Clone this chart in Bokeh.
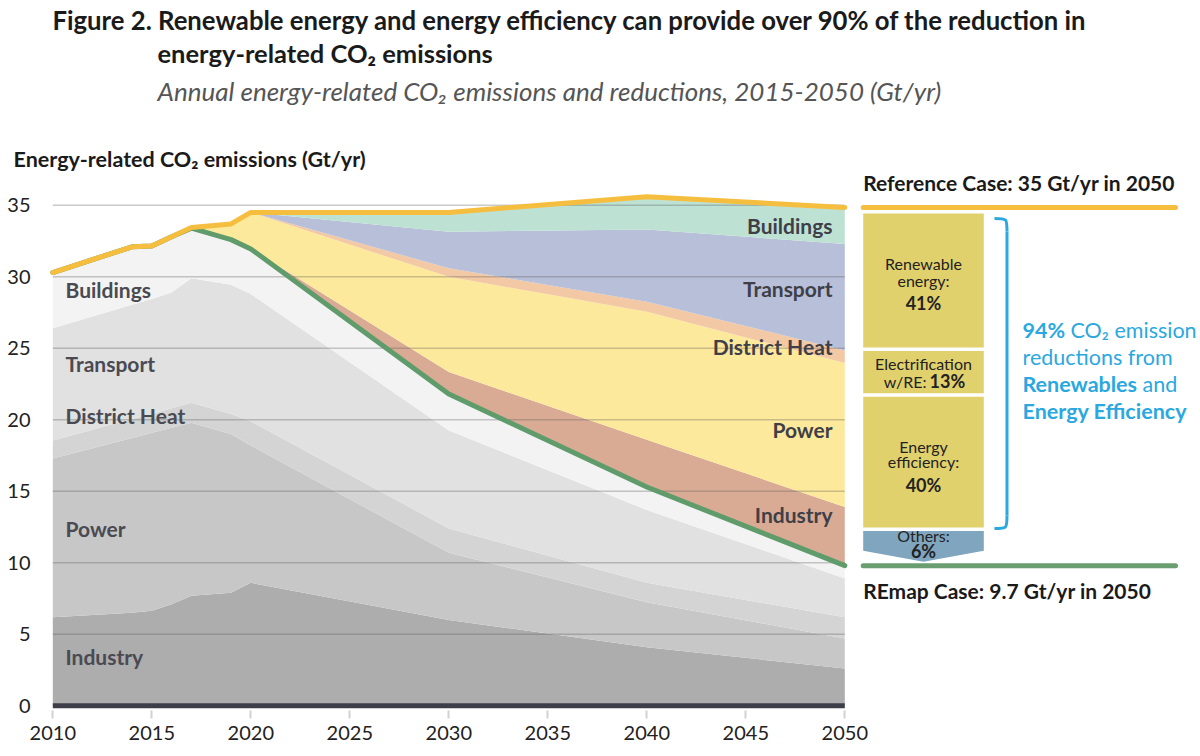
import numpy as np
from bokeh.plotting import figure
from bokeh.models import Label, FixedTicker, Range1d, ColumnDataSource
from bokeh.embed import file_html
from bokeh.resources import INLINE

# ---------------- data ----------------
years = [2010, 2014, 2015, 2016, 2017, 2019, 2020, 2030, 2040, 2050]

# REmap Case emissions by sector (Gt/yr), stacked from the bottom
remap_industry  = [6.2, 6.5, 6.65, 7.1, 7.7, 7.9, 8.6, 6.0, 4.1, 2.6]
remap_power     = [11.1, 12.23, 12.44, 12.34, 12.1, 11.1, 9.6, 4.7, 3.15, 2.1]
remap_district  = [1.25, 1.33, 1.31, 1.36, 1.4, 1.4, 1.7, 1.7, 1.35, 1.5]
remap_transport = [7.85, 7.99, 8.05, 8.1, 8.7, 9.05, 8.9, 6.85, 5.1, 2.7]
remap_buildings = [3.9, 4.05, 3.7, 3.9, 3.5, 3.15, 3.15, 2.55, 1.6, 0.9]

# Reductions vs Reference Case (Gt/yr), stacked on top of the REmap total
red_industry  = [0, 0, 0, 0, 0, 0, 0, 1.55, 3.3, 4.1]
red_power     = [0, 0, 0, 0, 0.05, 1.1, 2.55, 6.65, 8.95, 10.07]
red_district  = [0, 0, 0, 0, 0, 0, 0, 0.6, 0.7, 0.88]
red_transport = [0, 0, 0, 0, 0, 0, 0, 2.55, 5.05, 7.45]
red_buildings = [0, 0, 0, 0, 0, 0, 0, 1.35, 2.3, 2.55]

sector_names = ["Buildings", "Transport", "District Heat", "Power", "Industry"]
x_ticks = [2010, 2015, 2020, 2025, 2030, 2035, 2040, 2045, 2050]
y_ticks = [0, 5, 10, 15, 20, 25, 30, 35]

share_labels = ["Renewable energy", "Electrification w/RE", "Energy efficiency", "Others"]
share_values = [41, 13, 40, 6]

# ---------------- derived ----------------
remap_total = (np.array(remap_industry) + np.array(remap_power) + np.array(remap_district)
               + np.array(remap_transport) + np.array(remap_buildings))
ref_total = remap_total + (np.array(red_industry) + np.array(red_power) + np.array(red_district)
                           + np.array(red_transport) + np.array(red_buildings))

src = ColumnDataSource(dict(
    years=years,
    g_ind=remap_industry, g_pow=remap_power, g_dh=remap_district, g_tr=remap_transport, g_bu=remap_buildings,
    r_ind=red_industry, r_pow=red_power, r_dh=red_district, r_tr=red_transport, r_bu=red_buildings,
    remap=list(remap_total), ref=list(ref_total),
))

FONT = "Lato"
W, H = 1200, 752

# ---------------- geometry (page pixels -> data) ----------------
PXY = 19.8     # px per year
PXV = 14.3     # px per Gt
FRAME_B = 718
X0 = 2010 - 52.3 / PXY
X1 = X0 + W / PXY
Y0 = -(FRAME_B - 705.3) / PXV
Y1 = Y0 + FRAME_B / PXV

def X(px):
    return 2010 + (px - 52.3) / PXY

def Y(px):
    return (705.3 - px) / PXV

def dy(px):
    return px / PXV

p = figure(width=W, height=H, x_range=Range1d(X0, X1), y_range=Range1d(Y0, Y1),
           output_backend="svg", toolbar_location=None,
           min_border_left=0, min_border_right=0, min_border_top=0,
           min_border_bottom=H - FRAME_B)
p.outline_line_color = None
p.grid.visible = False
p.background_fill_color = "white"
p.border_fill_color = "white"

p.xaxis.ticker = FixedTicker(ticks=x_ticks)
p.xaxis.axis_line_color = None
p.xaxis.major_tick_in = 8
p.xaxis.major_tick_out = 0
p.xaxis.major_tick_line_color = "#d2d2d2"
p.xaxis.major_tick_line_width = 2
p.xaxis.minor_tick_line_color = None
p.xaxis.major_label_standoff = 7
p.xaxis.major_label_text_font = FONT
p.xaxis.major_label_text_font_size = "20px"
p.xaxis.major_label_text_color = "#222222"

# y axis drawn at a fixed spot just left of 2010, labels to its left
p.yaxis.fixed_location = X(40)
p.yaxis.ticker = FixedTicker(ticks=y_ticks)
p.yaxis.axis_line_color = None
p.yaxis.major_tick_line_color = None
p.yaxis.minor_tick_line_color = None
p.yaxis.major_label_standoff = 4
p.yaxis.major_label_text_font = FONT
p.yaxis.major_label_text_font_size = "20px"
p.yaxis.major_label_text_color = "#222222"

gray_cols = ["#adadad", "#c7c7c7", "#d4d4d4", "#e1e1e1", "#f3f3f4"]
red_cols = ["#d9ab95", "#fde99b", "#f2c9a4", "#b8bfd8", "#bde2d4"]
p.varea_stack(stackers=["g_ind", "g_pow", "g_dh", "g_tr", "g_bu",
                        "r_ind", "r_pow", "r_dh", "r_tr", "r_bu"],
              x="years", color=gray_cols + red_cols, source=src)

# grid lines over the areas, spanning 2010-2050
p.segment(x0=[x_ticks[0]] * 7, x1=[x_ticks[-1]] * 7, y0=y_ticks[1:], y1=y_ticks[1:],
          line_color="#5a5a5a", line_alpha=0.32, line_width=1.5)
# baseline
p.segment(x0=[x_ticks[0]], x1=[x_ticks[-1]], y0=[0], y1=[0], line_color="#3e3e4a", line_width=5)

p.line("years", "remap", source=src, line_color="#5f9b6b", line_width=5, line_cap="round", line_join="round")
p.line("years", "ref", source=src, line_color="#f6be3f", line_width=5, line_cap="round", line_join="round")

def lab(x, ypx, text, size=20, style="normal", color="#222222", align="left"):
    # ypx: page-pixel baseline of the text
    p.add_layout(Label(x=x, y=Y(ypx - 0.42 * size), text=text, text_font=FONT, text_font_size="%spx" % size,
                       text_font_style=style, text_color=color, text_align=align,
                       text_baseline="alphabetic", level="overlay"))

def mlab(x, y, text, size=16, style="normal", color="#222222", align="center"):
    p.add_layout(Label(x=x, y=y, text=text, text_font=FONT, text_font_size="%spx" % size,
                       text_font_style=style, text_color=color, text_align=align,
                       text_baseline="middle", level="overlay"))

# ---------------- titles ----------------
lab(X(52), 30, "Figure 2. Renewable energy and energy efficiency can provide over 90% of the reduction in",
    25.7, "bold", "#1a1a1a")
lab(X(157), 63, "energy-related CO\u2082 emissions", 25.5, "bold", "#1a1a1a")
lab(X(157), 101, "Annual energy-related CO\u2082 emissions and reductions, 2015-2050 (Gt/yr)", 26, "italic", "#555555")
lab(X(13), 168, "Energy-related CO\u2082 emissions (Gt/yr)", 21.5, "bold", "#1a1a1a")

# sector labels, left (REmap)
left_base = [298, 372, 424, 537, 665]
for name, b in zip(sector_names, left_base):
    lab(X(65), b, name, 21, "bold", "#4a4a52")
# sector labels, right (reductions)
right_base = [234, 297, 355, 438, 523]
for name, b in zip(sector_names, right_base):
    lab(X(832), b, name, 21, "bold", "#3f3f48", align="right")

# ---------------- right panel ----------------
ref_end = float(ref_total[-1])
remap_end = float(remap_total[-1])
px0, px1 = X(862.7), X(983.3)
pl1 = X(1175)
p.segment(x0=[px0], x1=[pl1], y0=[ref_end], y1=[ref_end], line_color="#f6be3f", line_width=5, line_cap="round")
p.segment(x0=[px0], x1=[pl1], y0=[remap_end], y1=[remap_end], line_color="#6a9e70", line_width=5, line_cap="round")
lab(px0, 191, "Reference Case: 35 Gt/yr in 2050", 21, "bold", "#1a1a1a")
lab(px0, 599, "REmap Case: 9.7 Gt/yr in 2050", 21, "bold", "#1a1a1a")

top_pad, gap, arrow, bot_pad = 6 / PXV, 3.5 / PXV, 11 / PXV, 4 / PXV
avail = (ref_end - remap_end) - top_pad - 3 * gap - arrow - bot_pad
tops, bots = [], []
cur = ref_end - top_pad
for s in share_values:
    h = avail * s / 100.0
    tops.append(cur)
    bots.append(cur - h)
    cur = cur - h - gap
p.quad(left=[px0] * 3, right=[px1] * 3, top=tops[:3], bottom=bots[:3], fill_color="#e1d16c", line_color=None)
xm = (px0 + px1) / 2
p.patch([px0, px1, px1, xm, px0], [tops[3], tops[3], bots[3], bots[3] - arrow, bots[3]],
        fill_color="#7fa5bf", line_color=None)

c0 = (tops[0] + bots[0]) / 2
mlab(xm, c0 + dy(17), "Renewable")
mlab(xm, c0, "energy:")
mlab(xm, c0 - dy(23), "%d%%" % share_values[0], 18, "bold")
c1 = (tops[1] + bots[1]) / 2
mlab(xm, c1 + dy(9), "Electrification")
mlab(X(926), c1 - dy(9), "w/RE:", align="right")
mlab(X(929), c1 - dy(9), "%d%%" % share_values[1], 18, "bold", align="left")
c2 = (tops[2] + bots[2]) / 2
mlab(xm, c2 + dy(16), "Energy")
mlab(xm, c2 + dy(1), "efficiency:")
mlab(xm, c2 - dy(23), "%d%%" % share_values[2], 18, "bold")
c3 = (tops[3] + bots[3]) / 2
mlab(xm, c3 + dy(5), "Others:")
mlab(xm, c3 - dy(10), "%d%%" % share_values[3], 18, "bold")

# bracket around the 94 %
BLUE = "#2aa8df"
bt, bb = tops[0] - dy(5), bots[2] - dy(1)
bx0, bx1 = X(994), X(1006.5)
p.bezier(x0=[bx0, bx1], y0=[bt, bb + dy(13)], x1=[bx1, bx0], y1=[bt - dy(13), bb],
         cx0=[bx1, bx1], cy0=[bt, bb], cx1=[bx1, bx1], cy1=[bt, bb],
         line_color=BLUE, line_width=3)
p.segment(x0=[bx1], x1=[bx1], y0=[bt - dy(13)], y1=[bb + dy(13)], line_color=BLUE, line_width=3)

pct94 = share_values[0] + share_values[1] + share_values[2]
lab(X(1022), 339, "%d%%" % pct94, 21.5, "bold", BLUE)
lab(X(1070), 339, "CO\u2082 emission", 21.5, "normal", BLUE)
lab(X(1022), 366, "reductions from", 21.5, "normal", BLUE)
lab(X(1022), 393, "Renewables", 21.5, "bold", BLUE)
lab(X(1142), 393, "and", 21.5, "normal", BLUE)
lab(X(1022), 420, "Energy Efficiency", 21.5, "bold", BLUE)

open("out.html", "w").write(file_html(p, INLINE))
